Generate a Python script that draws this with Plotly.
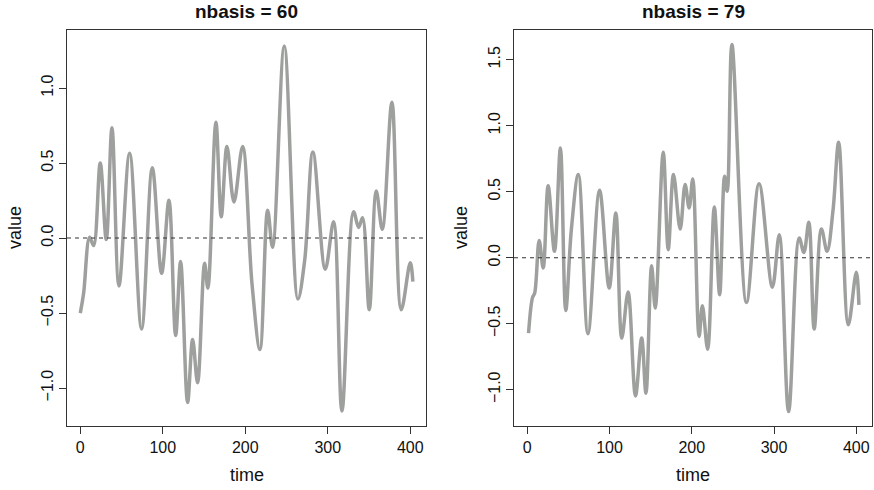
import plotly.graph_objects as go

# nbasis = 60 : key points of the smoothed curve (time, value)
t60 = [0, 4, 11.3, 16.2, 24.2, 31.5, 38.4, 46.9, 59.8, 74.3, 87.3, 98.6, 107.5, 115.6,
       121.6, 130.1, 136.2, 142.2, 150.7, 154.7, 164.4, 170.9, 177.8, 186.3, 196.8,
       208.1, 217.8, 227.1, 233.1, 247.3, 263.8, 272, 282.0, 297.0, 307.1, 317.2,
       331.3, 337.4, 342.2, 350.3, 358.8, 366.1, 377.8, 389.1, 400.0, 403.2]
v60 = [-0.50, -0.37, 0.005, -0.05, 0.50, -0.01, 0.735, -0.32, 0.566, -0.606, 0.469,
       -0.235, 0.252, -0.65, -0.157, -1.097, -0.677, -0.965, -0.168, -0.334, 0.772,
       0.142, 0.611, 0.241, 0.611, -0.30, -0.743, 0.186, -0.062, 1.281, -0.407,
       -0.15, 0.573, -0.208, 0.108, -1.153, 0.175, 0.071, 0.135, -0.478, 0.314,
       0.058, 0.905, -0.478, -0.164, -0.29]

# nbasis = 79
t79 = [1.6, 6.5, 9, 14.5, 19.4, 25.4, 33.1, 40.3, 46.8, 53.6, 62.1, 73.8, 87.9, 99.6,
       107.7, 114.9, 122.6, 131.6, 139.1, 144.3, 151.2, 155.6, 165.3, 171.4, 177.8,
       185.9, 191.9, 196.8, 201.2, 208.9, 212.9, 219.3, 227.4, 233.9, 239.9, 243.1,
       248.8, 266.5, 281.8, 298.0, 306.4, 317.7, 330.6, 336.3, 342.3, 348.8, 357.6,
       364.5, 371.8, 378.6, 390.3, 400.0, 403.2]
v79 = [-0.571, -0.30, -0.27, 0.131, -0.078, 0.546, 0.048, 0.832, -0.40, 0.212, 0.63,
       -0.576, 0.511, -0.23, 0.339, -0.609, -0.26, -1.047, -0.609, -1.027, -0.061,
       -0.382, 0.799, 0.061, 0.63, 0.217, 0.554, 0.377, 0.597, -0.597, -0.364,
       -0.693, 0.384, -0.281, 0.617, 0.503, 1.616, -0.339, 0.561, -0.223, 0.174,
       -1.166, 0.149, 0.04, 0.268, -0.541, 0.217, 0.048, 0.364, 0.875, -0.508,
       -0.111, -0.357]

titles = ["nbasis = 60", "nbasis = 79"]
x_ticks = [0, 100, 200, 300, 400]
y_ticks60 = [-1.0, -0.5, 0.0, 0.5, 1.0]
y_ticks79 = [-1.0, -0.5, 0.0, 0.5, 1.0, 1.5]

W, H = 874, 490
FONT = "Liberation Sans, Arial, Helvetica, sans-serif"
LINE = "rgb(158,160,158)"
INK = "#111"

fig = go.Figure()
fig.add_trace(go.Scatter(x=t60, y=v60, mode="lines", xaxis="x", yaxis="y",
                         line=dict(color=LINE, width=3.5, shape="spline", smoothing=1.0),
                         showlegend=False, hoverinfo="skip"))
fig.add_trace(go.Scatter(x=t79, y=v79, mode="lines", xaxis="x2", yaxis="y2",
                         line=dict(color=LINE, width=3.5, shape="spline", smoothing=1.0),
                         showlegend=False, hoverinfo="skip"))

xr = [-16.1, 419.1]
common_x = dict(range=xr, tickvals=x_ticks, ticktext=[str(v) for v in x_ticks],
                showline=True, mirror=True, linecolor="#333", linewidth=1,
                ticks="outside", ticklen=7, tickcolor="#333", showgrid=False,
                zeroline=False, tickfont=dict(size=16, color=INK, family=FONT))
common_y = dict(showline=True, mirror=True, linecolor="#333", linewidth=1,
                ticks="outside", ticklen=7, tickcolor="#333", showgrid=False,
                zeroline=False, tickangle=-90,
                tickfont=dict(size=16, color=INK, family=FONT))

d1 = [67 / W, 426 / W]
d2 = [514 / W, 872 / W]
dy = [1 - 426 / H, 1 - 30 / H]

def ann(text, x, y, size, angle=0):
    return dict(text=text, x=x, y=y, xref="paper", yref="paper", showarrow=False,
                xanchor="center", yanchor="middle", textangle=angle,
                font=dict(size=size, family=FONT, color=INK))

fig.update_layout(
    width=W, height=H, margin=dict(l=0, r=0, t=0, b=0),
    paper_bgcolor="white", plot_bgcolor="white",
    font=dict(family=FONT, color=INK),
    xaxis=dict(domain=d1, anchor="y", **common_x),
    yaxis=dict(domain=dy, anchor="x", range=[-1.253, 1.387], tickvals=y_ticks60,
               ticktext=[f"{v:.1f}".replace("-", "\u2212") for v in y_ticks60], **common_y),
    xaxis2=dict(domain=d2, anchor="y2", **common_x),
    yaxis2=dict(domain=dy, anchor="x2", range=[-1.275, 1.725], tickvals=y_ticks79,
                ticktext=[f"{v:.1f}".replace("-", "\u2212") for v in y_ticks79], **common_y),
    shapes=[
        dict(type="line", xref="x domain", yref="y", x0=0, x1=1, y0=0, y1=0,
             line=dict(color="#333", width=1.1, dash="4px,4px")),
        dict(type="line", xref="x2 domain", yref="y2", x0=0, x1=1, y0=0, y1=0,
             line=dict(color="#333", width=1.1, dash="4px,4px")),
    ],
    annotations=[
        ann("<b>" + titles[0] + "</b>", (d1[0] + d1[1]) / 2, 1 - 11 / H, 19),
        ann("<b>" + titles[1] + "</b>", (d2[0] + d2[1]) / 2, 1 - 11 / H, 19),
        ann("time", (d1[0] + d1[1]) / 2, 1 - 475 / H, 18),
        ann("time", (d2[0] + d2[1]) / 2, 1 - 475 / H, 18),
        ann("value", 15 / W, 1 - 228 / H, 18, -90),
        ann("value", 461 / W, 1 - 228 / H, 18, -90),
    ],
)

fig.write_html("out.html")
